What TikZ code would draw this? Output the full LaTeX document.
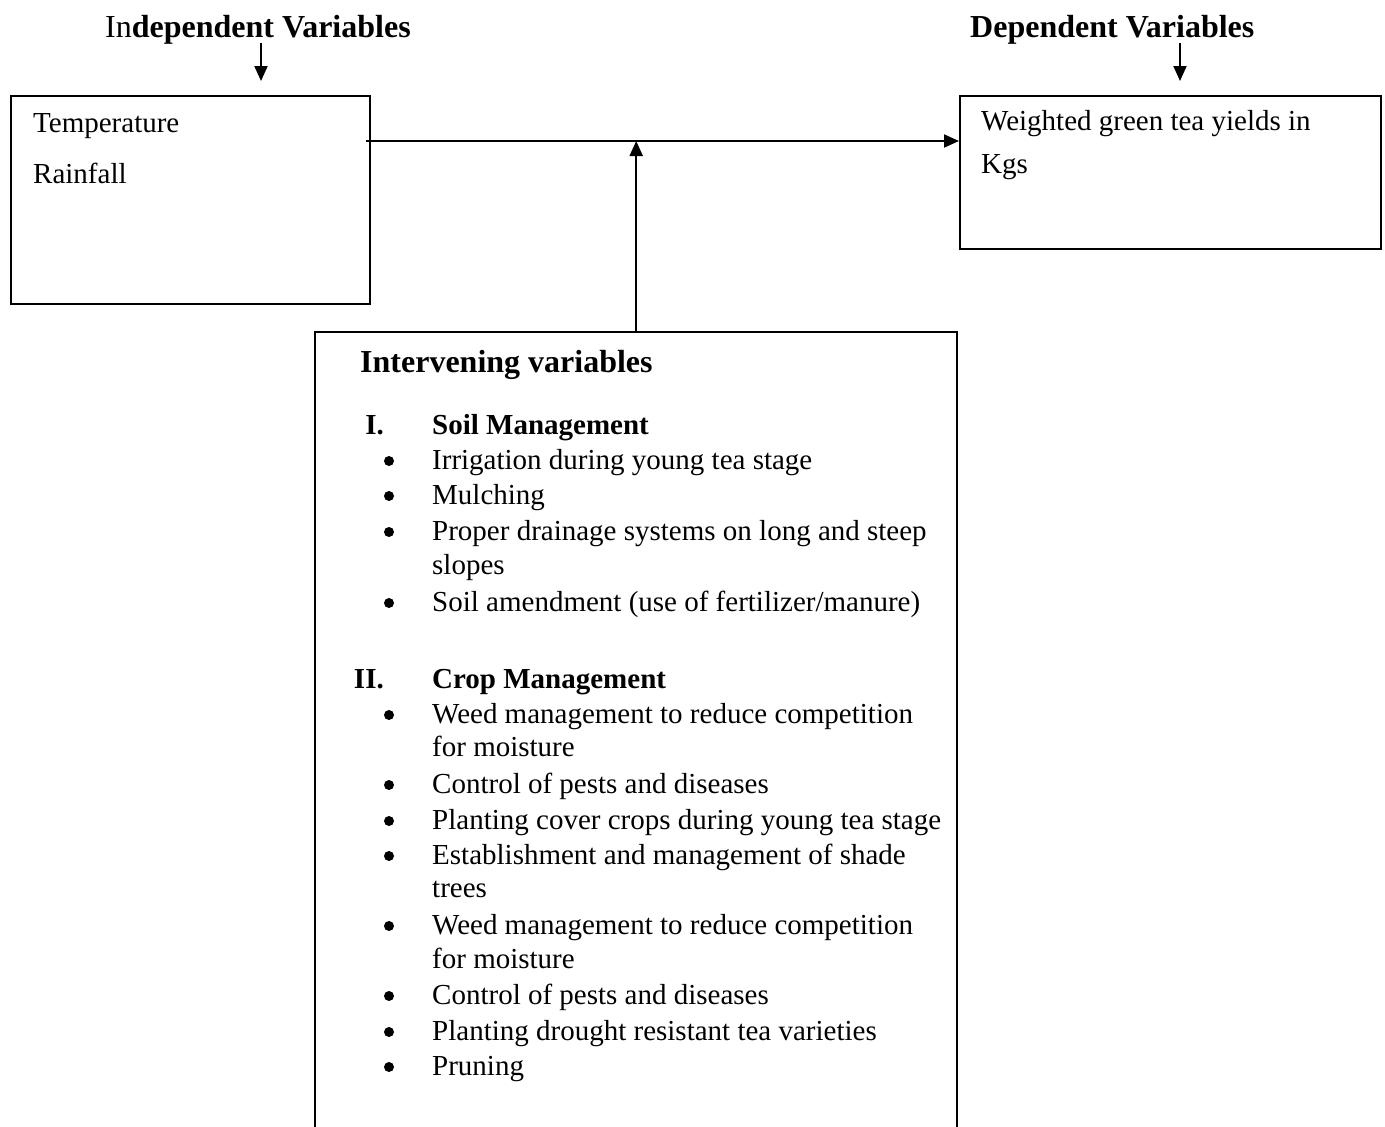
\documentclass[tikz,border=0pt]{standalone}
\usepackage{fontspec}
\setmainfont{Liberation Serif}
\usetikzlibrary{arrows.meta}
\begin{document}
\begin{tikzpicture}[x=1pt,y=-1pt,
  txt/.style={anchor=base west, inner sep=0pt, font=\fontsize{29}{35}\selectfont},
  hdr/.style={anchor=base west, inner sep=0pt, font=\fontsize{29}{35}\selectfont\bfseries},
  num/.style={anchor=base east, inner sep=0pt, font=\fontsize{29}{35}\selectfont\bfseries},
  bul/.style={circle, fill=black, inner sep=0pt, minimum size=10pt},
  ttl/.style={anchor=base west, inner sep=0pt, font=\fontsize{32}{38}\selectfont},
  box/.style={draw, line width=2pt, rectangle, inner sep=0pt, anchor=north west},
  arr/.style={line width=2pt, -{Triangle[length=15pt,width=13pt]}}]
\useasboundingbox (0,0) rectangle (1385,1127);
% boxes
\node[box, minimum width=359pt, minimum height=208pt] (ind) at (10,95) {};
\node[box, minimum width=421pt, minimum height=153pt] (dep) at (959,95) {};
\node[inner sep=0pt, minimum width=642pt, minimum height=820pt, anchor=north west] (inter) at (315,332) {};
\draw[line width=2pt] (inter.south west) -- (inter.north west) -- (inter.north east) -- (inter.south east);
% titles
\node[ttl] (tind) at (105,37) {In\textbf{dependent Variables}};
\node[ttl] (tdep) at (970,37) {\textbf{Dependent Variables}};
% arrows
\coordinate (ia) at (261,43);
\coordinate (ib) at (261,81);
\coordinate (da) at (1180,43);
\coordinate (db) at (1180,81);
\draw[arr] (ia) -- (ib);
\draw[arr] (da) -- (db);
\coordinate (hs) at (366,141);
\draw[arr] (hs) -- (dep.west |- hs);
\draw[arr] (inter.north) -- (inter.north |- hs);
% left box text
\node[txt] (t1) at (33,132) {Temperature};
\node[txt] (t2) at (33,183) {Rainfall};
% right box text
\node[txt] (w1) at (981,130) {Weighted green tea yields in};
\node[txt] (w2) at (981,173) {Kgs};
% intervening
\node[ttl] (ih) at (360,372) {\textbf{Intervening variables}};
\node[num] (n1) at (384,434) {I.};
\node[hdr] (h1) at (432,434) {Soil Management};
\foreach \y/\t/\b [count=\i] in {
  469/{Irrigation during young tea stage}/1,
  504/{Mulching}/1,
  540/{Proper drainage systems on long and steep}/1,
  574/{slopes}/0,
  611/{Soil amendment (use of fertilizer{/}manure)}/1}{
  \node[txt] (s\i) at (432,\y) {\t};
  \ifnum\b=1 \node[bul] (sb\i) at (389,\y-8) {}; \fi
}
\node[num] (n2) at (384,688) {II.};
\node[hdr] (h2) at (432,688) {Crop Management};
\foreach \y/\t/\b [count=\i] in {
  723/{Weed management to reduce competition}/1,
  756/{for moisture}/0,
  793/{Control of pests and diseases}/1,
  829/{Planting cover crops during young tea stage}/1,
  864/{Establishment and management of shade}/1,
  897/{trees}/0,
  934/{Weed management to reduce competition}/1,
  968/{for moisture}/0,
  1004/{Control of pests and diseases}/1,
  1040/{Planting drought resistant tea varieties}/1,
  1075/{Pruning}/1}{
  \node[txt] (c\i) at (432,\y) {\t};
  \ifnum\b=1 \node[bul] (cb\i) at (389,\y-8) {}; \fi
}
\end{tikzpicture}
\end{document}
